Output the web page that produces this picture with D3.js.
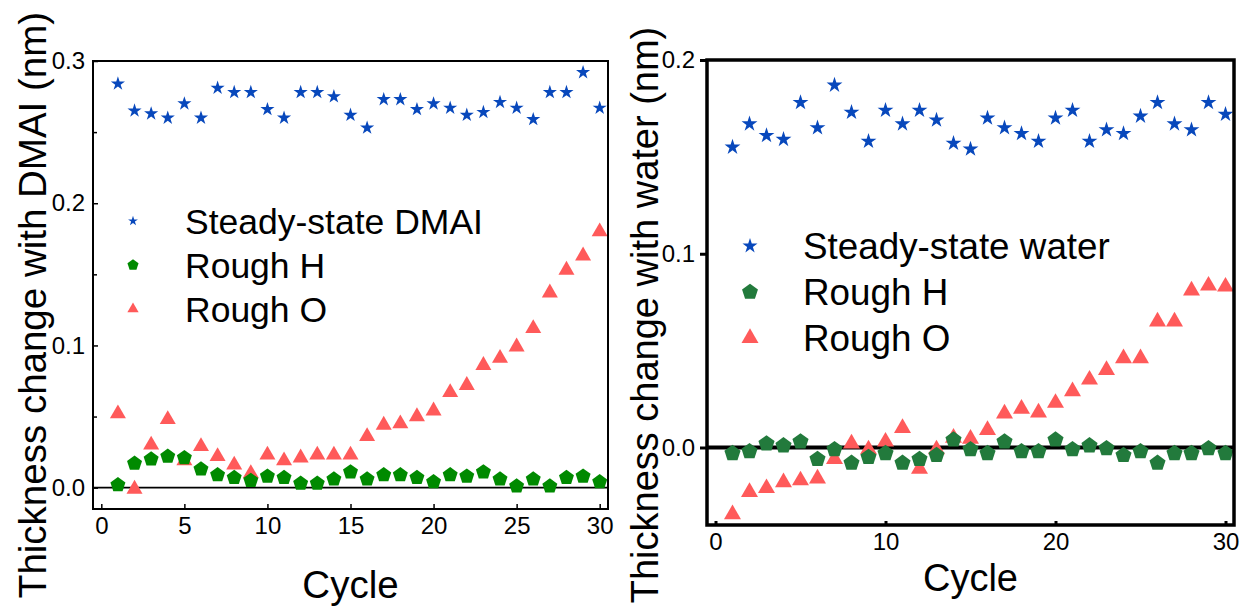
<!DOCTYPE html>
<html>
<head>
<meta charset="utf-8">
<script src="https://cdn.jsdelivr.net/npm/d3@7"></script>
<style>
  html, body { margin: 0; padding: 0; background: #fff; }
  svg { display: block; font-family: "Liberation Sans", Arial, sans-serif; }
</style>
</head>
<body>
<svg id="chart" width="1248" height="606"></svg>
<script>
// ---------- DATA ----------
const cycles = [1,2,3,4,5,6,7,8,9,10,11,12,13,14,15,16,17,18,19,20,21,22,23,24,25,26,27,28,29,30];

const dmaiSteady = [0.284,0.265,0.263,0.260,0.270,0.260,0.281,0.278,0.278,0.266,0.260,0.278,0.278,0.275,0.262,0.253,0.273,0.273,0.266,0.270,0.267,0.262,0.264,0.271,0.267,0.259,0.278,0.278,0.292,0.267];
const dmaiRoughH = [0.002,0.017,0.020,0.022,0.021,0.013,0.009,0.007,0.005,0.008,0.007,0.003,0.003,0.006,0.011,0.006,0.009,0.009,0.007,0.004,0.009,0.008,0.011,0.006,0.001,0.006,0.001,0.007,0.008,0.004];
const dmaiRoughO = [0.052,-0.001,0.030,0.048,0.019,0.029,0.022,0.016,0.010,0.023,0.019,0.021,0.023,0.023,0.023,0.036,0.044,0.045,0.050,0.054,0.067,0.072,0.086,0.091,0.099,0.112,0.137,0.153,0.163,0.180];

const waterSteady = [0.155,0.167,0.161,0.159,0.178,0.165,0.187,0.173,0.158,0.174,0.167,0.174,0.169,0.157,0.154,0.170,0.165,0.162,0.158,0.170,0.174,0.158,0.164,0.162,0.171,0.178,0.167,0.164,0.178,0.172];
const waterRoughH = [-0.003,-0.002,0.002,0.001,0.003,-0.006,-0.001,-0.008,-0.005,-0.003,-0.008,-0.006,-0.004,0.004,-0.001,-0.003,0.003,-0.002,-0.002,0.004,-0.001,0.001,-0.0005,-0.004,-0.002,-0.008,-0.003,-0.003,-0.0005,-0.003];
const waterRoughO = [-0.0345,-0.023,-0.021,-0.018,-0.017,-0.016,-0.006,0.002,-0.001,0.003,0.010,-0.011,-0.001,0.005,0.0045,0.009,0.0175,0.020,0.018,0.023,0.029,0.035,0.040,0.046,0.046,0.065,0.065,0.081,0.0835,0.083];

const leftXTicks = [0,5,10,15,20,25,30];
const leftYTicks = [0.0,0.1,0.2,0.3];
const leftYMinor = [0.05,0.15,0.25];
const rightXTicks = [0,10,20,30];
const rightYTicks = [0.0,0.1,0.2];

const leftLegend = ["Steady-state DMAI","Rough H","Rough O"];
const rightLegend = ["Steady-state water","Rough H","Rough O"];

// ---------- STYLE ----------
const BLUE = "#0848BC";
const RED = "#FF5A5A";
const GREEN_L = "#008A00";
const GREEN_R = "#227A3C";

// custom pentagon symbol (size = circumradius^2)
const symPentagon = {
  draw(ctx, size) {
    const r = Math.sqrt(size);
    for (let i = 0; i < 5; i++) {
      const a = -Math.PI / 2 + i * 2 * Math.PI / 5;
      const x = r * Math.cos(a), y = r * Math.sin(a);
      if (i === 0) ctx.moveTo(x, y); else ctx.lineTo(x, y);
    }
    ctx.closePath();
  }
};

const svg = d3.select("#chart");

function panel(cfg) {
  const g = svg.append("g");
  const x = d3.scaleLinear().domain([-0.5, 30.5]).range([cfg.x0, cfg.x1]);
  const y = d3.scaleLinear().domain(cfg.yDomain).range([cfg.y1, cfg.y0]);

  // zero line
  g.append("line")
    .attr("x1", cfg.x0).attr("x2", cfg.x1)
    .attr("y1", y(0)).attr("y2", y(0))
    .attr("stroke", "#000").attr("stroke-width", cfg.zeroW);

  const clip = "clip" + cfg.id;
  svg.append("clipPath").attr("id", clip).append("rect")
    .attr("x", cfg.x0).attr("y", cfg.y0 - 20).attr("width", cfg.x1 - cfg.x0).attr("height", cfg.y1 - cfg.y0 + 20);
  const marks = g.append("g").attr("clip-path", `url(#${clip})`);

  const series = [
    { data: cfg.o, type: d3.symbolTriangle, size: cfg.triSize, color: RED },
    { data: cfg.h, type: symPentagon, size: cfg.penSize, color: cfg.green },
    { data: cfg.s, type: d3.symbolStar, size: cfg.starSize, color: BLUE }
  ];
  series.forEach(sr => {
    marks.selectAll(null).data(cycles.map((c, i) => [c, sr.data[i]])).enter()
      .append("path")
      .attr("d", d3.symbol().type(sr.type).size(sr.size))
      .attr("transform", d => `translate(${x(d[0])},${y(d[1])})`)
      .attr("fill", sr.color);
  });

  // axes
  const xAxis = d3.axisBottom(x).tickValues(cfg.xTicks).tickSizeInner(-cfg.xTickLen).tickSizeOuter(0)
    .tickPadding(cfg.xPad).tickFormat(d3.format("d"));
  const gx = g.append("g").attr("transform", `translate(0,${cfg.y1})`).call(xAxis);
  const yAxis = d3.axisLeft(y).tickValues(cfg.yTicks).tickSizeInner(cfg.yTickLen).tickSizeOuter(0)
    .tickPadding(cfg.yPad).tickFormat(d3.format(".1f"));
  const gy = g.append("g").attr("transform", `translate(${cfg.x0},0)`).call(yAxis);
  if (cfg.yMinor) {
    g.append("g").attr("transform", `translate(${cfg.x0},0)`)
      .call(d3.axisLeft(y).tickValues(cfg.yMinor).tickSizeInner(-4).tickSizeOuter(0).tickFormat(""))
      .select(".domain").remove();
  }
  [gx, gy].forEach(a => {
    a.select(".domain").remove();
    a.selectAll(".tick text").attr("fill", "#000").style("font-size", cfg.tickFont + "px")
      .style("font-family", '"Liberation Sans", Arial, sans-serif');
  });
  g.selectAll(".tick line").attr("stroke", "#000").attr("stroke-width", cfg.tickW);

  // frame
  g.append("rect")
    .attr("x", cfg.x0).attr("y", cfg.y0).attr("width", cfg.x1 - cfg.x0).attr("height", cfg.y1 - cfg.y0)
    .attr("fill", "none").attr("stroke", "#000").attr("stroke-width", cfg.frameW);

  // titles
  g.append("text").attr("x", (cfg.x0 + cfg.x1) / 2).attr("y", cfg.xTitleY)
    .attr("text-anchor", "middle").style("font-size", cfg.titleFont + "px").attr("fill", "#000").text("Cycle");
  g.append("text").attr("transform", `translate(${cfg.yTitleX},${cfg.yTitleCY}) rotate(-90)`)
    .attr("text-anchor", "middle").style("font-size", cfg.titleFont + "px").attr("fill", "#000").text(cfg.yTitle);

  // legend
  const lg = g.append("g");
  const legSym = [
    { type: d3.symbolStar, size: cfg.lgStar, color: BLUE },
    { type: symPentagon, size: cfg.lgPen, color: cfg.green },
    { type: d3.symbolTriangle, size: cfg.lgTri, color: RED }
  ];
  cfg.legend.forEach((label, i) => {
    const yy = cfg.lgY + i * cfg.lgDy;
    lg.append("path").attr("d", d3.symbol().type(legSym[i].type).size(legSym[i].size))
      .attr("transform", `translate(${cfg.lgX},${yy})`).attr("fill", legSym[i].color);
    lg.append("text").attr("x", cfg.lgTX).attr("y", yy).attr("dy", "0.36em")
      .style("font-size", cfg.lgFont + "px").attr("fill", "#000").text(label);
  });
}

panel({
  id: "L", x0: 93, x1: 608, y0: 61, y1: 509, yDomain: [-0.015, 0.3],
  s: dmaiSteady, h: dmaiRoughH, o: dmaiRoughO, green: GREEN_L,
  starSize: 62, penSize: 62, triSize: 111,
  xTicks: leftXTicks, yTicks: leftYTicks, yMinor: leftYMinor,
  xTickLen: 5, yTickLen: -5, xPad: 8, yPad: 8, tickW: 1.5, tickFont: 24,
  frameW: 2, zeroW: 1.6,
  titleFont: 38.5, xTitleY: 598, yTitleX: 46, yTitleCY: 305,
  yTitle: "Thickness change with DMAI (nm)",
  legend: leftLegend, lgX: 133, lgTX: 185, lgY: 221, lgDy: 44, lgFont: 35.5,
  lgStar: 30, lgPen: 34, lgTri: 55
});

panel({
  id: "R", x0: 707, x1: 1234, y0: 60, y1: 525, yDomain: [-0.04, 0.2],
  s: waterSteady, h: waterRoughH, o: waterRoughO, green: GREEN_R,
  starSize: 78, penSize: 72, triSize: 125,
  xTicks: rightXTicks, yTicks: rightYTicks, yMinor: null,
  xTickLen: 4, yTickLen: 7, xPad: 8, yPad: 5, tickW: 3, tickFont: 24,
  frameW: 3.5, zeroW: 4,
  titleFont: 38, xTitleY: 591, yTitleX: 658, yTitleCY: 315,
  yTitle: "Thickness change with water (nm)",
  legend: rightLegend, lgX: 750, lgTX: 803, lgY: 246, lgDy: 46, lgFont: 36.8,
  lgStar: 70, lgPen: 70, lgTri: 125
});
</script>
</body>
</html>
